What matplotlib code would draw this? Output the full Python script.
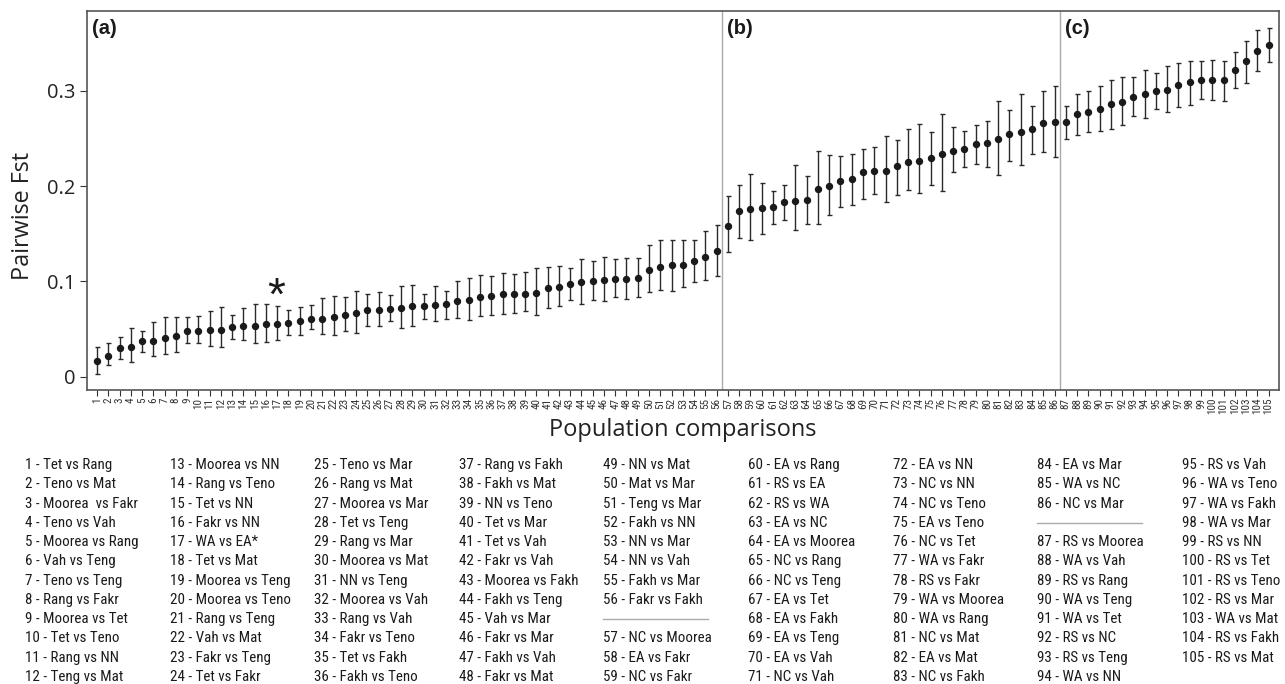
import matplotlib
matplotlib.use('Agg')
import matplotlib.pyplot as plt
from matplotlib import font_manager
import numpy as np

# Pairwise Fst estimates (sorted) with lower / upper CI
fst = [0.016, 0.022, 0.030, 0.031, 0.037, 0.037, 0.041, 0.043, 0.048, 0.048,
       0.049, 0.049, 0.052, 0.053, 0.053, 0.055, 0.055, 0.056, 0.058, 0.061,
       0.061, 0.063, 0.065, 0.067, 0.070, 0.070, 0.071, 0.072, 0.074, 0.074,
       0.075, 0.076, 0.079, 0.081, 0.084, 0.085, 0.087, 0.087, 0.087, 0.088,
       0.093, 0.094, 0.097, 0.099, 0.100, 0.101, 0.103, 0.103, 0.104, 0.112,
       0.115, 0.117, 0.117, 0.121, 0.126, 0.132,
       0.158, 0.174, 0.176, 0.177, 0.178, 0.183, 0.185, 0.186, 0.197, 0.200,
       0.206, 0.208, 0.215, 0.216, 0.216, 0.221, 0.225, 0.227, 0.230, 0.234,
       0.237, 0.239, 0.244, 0.245, 0.250, 0.255, 0.257, 0.260, 0.266, 0.267,
       0.267, 0.276, 0.278, 0.281, 0.286, 0.288, 0.294, 0.297, 0.300, 0.301,
       0.306, 0.309, 0.312, 0.312, 0.312, 0.322, 0.331, 0.342, 0.348]
fst_lo = [0.003, 0.012, 0.019, 0.015, 0.026, 0.022, 0.024, 0.026, 0.035, 0.035,
          0.032, 0.031, 0.040, 0.038, 0.035, 0.036, 0.038, 0.044, 0.044, 0.050,
          0.045, 0.044, 0.048, 0.046, 0.053, 0.053, 0.058, 0.051, 0.053, 0.061,
          0.058, 0.061, 0.062, 0.060, 0.064, 0.065, 0.066, 0.067, 0.069, 0.065,
          0.072, 0.074, 0.080, 0.076, 0.080, 0.079, 0.084, 0.082, 0.084, 0.089,
          0.091, 0.090, 0.094, 0.099, 0.102, 0.106,
          0.131, 0.146, 0.144, 0.150, 0.160, 0.165, 0.154, 0.160, 0.160, 0.170,
          0.178, 0.180, 0.187, 0.192, 0.183, 0.191, 0.196, 0.193, 0.201, 0.195,
          0.215, 0.220, 0.223, 0.220, 0.212, 0.227, 0.222, 0.234, 0.236, 0.231,
          0.250, 0.254, 0.257, 0.258, 0.260, 0.264, 0.274, 0.272, 0.281, 0.278,
          0.283, 0.285, 0.292, 0.291, 0.290, 0.303, 0.308, 0.321, 0.330]
fst_hi = [0.031, 0.035, 0.042, 0.051, 0.048, 0.057, 0.063, 0.063, 0.063, 0.064,
          0.069, 0.073, 0.065, 0.072, 0.076, 0.076, 0.074, 0.070, 0.073, 0.075,
          0.083, 0.085, 0.084, 0.090, 0.087, 0.089, 0.086, 0.095, 0.096, 0.087,
          0.095, 0.090, 0.100, 0.104, 0.107, 0.106, 0.109, 0.108, 0.110, 0.114,
          0.115, 0.116, 0.114, 0.124, 0.121, 0.126, 0.124, 0.125, 0.125, 0.138,
          0.144, 0.144, 0.143, 0.143, 0.153, 0.159,
          0.190, 0.201, 0.213, 0.203, 0.195, 0.201, 0.222, 0.211, 0.237, 0.233,
          0.232, 0.234, 0.239, 0.241, 0.253, 0.249, 0.260, 0.265, 0.257, 0.276,
          0.262, 0.258, 0.264, 0.269, 0.290, 0.280, 0.297, 0.284, 0.300, 0.305,
          0.284, 0.297, 0.300, 0.305, 0.312, 0.315, 0.315, 0.322, 0.319, 0.326,
          0.329, 0.332, 0.331, 0.333, 0.331, 0.341, 0.353, 0.364, 0.366]

comparisons = [
    "Tet vs Rang", "Teno vs Mat", "Moorea  vs Fakr", "Teno vs Vah", "Moorea vs Rang",
    "Vah vs Teng", "Teno vs Teng", "Rang vs Fakr", "Moorea vs Tet", "Tet vs Teno",
    "Rang vs NN", "Teng vs Mat", "Moorea vs NN", "Rang vs Teno", "Tet vs NN",
    "Fakr vs NN", "WA vs EA*", "Tet vs Mat", "Moorea vs Teng", "Moorea vs Teno",
    "Rang vs Teng", "Vah vs Mat", "Fakr vs Teng", "Tet vs Fakr", "Teno vs Mar",
    "Rang vs Mat", "Moorea vs Mar", "Tet vs Teng", "Rang vs Mar", "Moorea vs Mat",
    "NN vs Teng", "Moorea vs Vah", "Rang vs Vah", "Fakr vs Teno", "Tet vs Fakh",
    "Fakh vs Teno", "Rang vs Fakh", "Fakh vs Mat", "NN vs Teno", "Tet vs Mar",
    "Tet vs Vah", "Fakr vs Vah", "Moorea vs Fakh", "Fakh vs Teng", "Vah vs Mar",
    "Fakr vs Mar", "Fakh vs Vah", "Fakr vs Mat", "NN vs Mat", "Mat vs Mar",
    "Teng vs Mar", "Fakh vs NN", "NN vs Mar", "NN vs Vah", "Fakh vs Mar",
    "Fakr vs Fakh",
    "NC vs Moorea", "EA vs Fakr", "NC vs Fakr", "EA vs Rang", "RS vs EA",
    "RS vs WA", "EA vs NC", "EA vs Moorea", "NC vs Rang", "NC vs Teng",
    "EA vs Tet", "EA vs Fakh", "EA vs Teng", "EA vs Vah", "NC vs Vah",
    "EA vs NN", "NC vs NN", "NC vs Teno", "EA vs Teno", "NC vs Tet",
    "WA vs Fakr", "RS vs Fakr", "WA vs Moorea", "WA vs Rang", "NC vs Mat",
    "EA vs Mat", "NC vs Fakh", "EA vs Mar", "WA vs NC", "NC vs Mar",
    "RS vs Moorea", "WA vs Vah", "RS vs Rang", "WA vs Teng", "WA vs Tet",
    "RS vs NC", "RS vs Teng", "WA vs NN", "RS vs Vah", "WA vs Teno",
    "WA vs Fakh", "WA vs Mar", "RS vs NN", "RS vs Tet", "RS vs Teno",
    "RS vs Mar", "WA vs Mat", "RS vs Fakh", "RS vs Mat"]

group_sizes = [56, 30, 19]
group_labels = ['(a)', '(b)', '(c)']
starred = 17

# pick the narrowest sans available for the key (reference uses a condensed face)
avail = {f.name for f in font_manager.fontManager.ttflist}
narrow_font, narrow_stretch = 'Roboto', 'normal'
for name in ['Liberation Sans Narrow', 'Roboto Condensed', 'DejaVu Sans Condensed',
             'Open Sans Condensed', 'Noto Sans Condensed']:
    if name in avail:
        narrow_font = name
        break
else:
    for f in font_manager.fontManager.ttflist:
        if f.stretch in ('condensed', 'semi-condensed') and f.style == 'normal':
            narrow_font, narrow_stretch = f.name, f.stretch
            break

W, H = 1285, 684
fig = plt.figure(figsize=(W / 100, H / 100), dpi=100)
ax = fig.add_axes([87.3 / W, 1 - 390 / H, (1278.7 - 87.3) / W, (390 - 11) / H])

x = np.arange(1, len(fst) + 1)
fst = np.array(fst)
yerr = [fst - np.array(fst_lo), np.array(fst_hi) - fst]
ax.errorbar(x, fst, yerr=yerr, fmt='o', color='#1a1a1a', ecolor='#2a2a2a',
            elinewidth=1.0, capsize=1.8, capthick=1.0, markersize=4.3)

# panel dividers and labels
bounds = np.cumsum(group_sizes)[:-1] + 0.5
for b in bounds:
    ax.axvline(b, color='#aaaaaa', lw=1.0)
starts = np.concatenate([[0.14], bounds])
for s, lab in zip(starts, group_labels):
    ax.text(s + 0.45, 0.953, lab, transform=ax.get_xaxis_transform(),
            fontsize=14.5, fontweight='bold', family='Liberation Sans',
            ha='left', va='center', color='#1a1a1a')

ax.annotate('*', (starred, fst[starred - 1]), xytext=(-1, 10.5),
            textcoords='offset points', fontsize=33, ha='center',
            va='baseline', color='#1a1a1a', family='Liberation Sans')

ax.set_xlim(0.14, 105.9)
ax.set_ylim(-0.014, 0.384)
ax.set_xticks(x)
ax.set_xticklabels([str(i) for i in x], rotation=90, fontsize=8,
                   family=narrow_font, fontstretch=narrow_stretch, color='#333333')
ax.set_yticks([0, 0.1, 0.2, 0.3])
ax.set_yticklabels(['0', '0.1', '0.2', '0.3'], fontsize=14.5, family='Open Sans',
                   color='#222222')
ax.tick_params(axis='x', length=4, pad=1.5, color='#333333')
ax.tick_params(axis='y', length=5, color='#333333')
for sp in ax.spines.values():
    sp.set_color('#555555')
    sp.set_linewidth(1.2)

fig.text(683 / W, 1 - 430 / H, 'Population comparisons', fontsize=17,
         family='Open Sans', ha='center', va='center', color='#222222')
fig.text(23 / W, 1 - 216 / H, 'Pairwise Fst', fontsize=16.8, family='Open Sans',
         rotation=90, ha='center', va='center', color='#222222')

# size the key font so one entry is as wide as in the reference (~112 px)
probe = fig.text(0, 0, '5 - Moorea vs Rang', fontsize=10, family=narrow_font,
                 fontstretch=narrow_stretch)
fig.canvas.draw()
key_size = min(11.5, 10 * 113 / probe.get_window_extent().width)
probe.remove()

# key of comparisons, 12 rows per column with gaps between groups
col, row = 0, 0
for n, name in enumerate(comparisons, start=1):
    if row == 12:
        col, row = col + 1, 0
    px, py = 25 + 144.6 * col, 465 + 19.27 * row
    fig.text(px / W, 1 - py / H, f'{n} - {name}', fontsize=key_size,
             family=[narrow_font, 'DejaVu Sans'], fontstretch=narrow_stretch,
             ha='left', va='center', color='#1a1a1a')
    row += 1
    if n in np.cumsum(group_sizes)[:-1]:
        py = 465 + 19.27 * row
        fig.add_artist(plt.Line2D([px / W, (px + 105) / W], [1 - py / H, 1 - py / H],
                                  color='#aaaaaa', lw=1.0))
        row += 1

fig.savefig('out.png', dpi=100)
